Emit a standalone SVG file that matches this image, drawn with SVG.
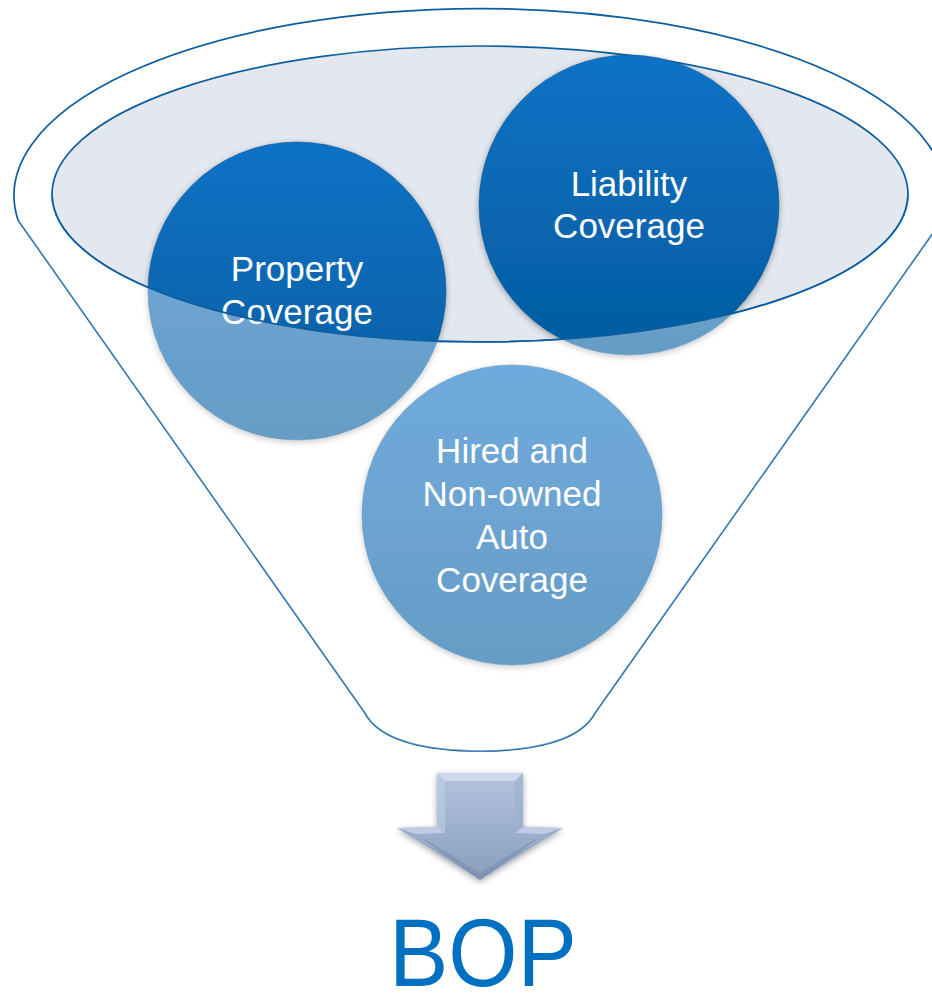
<svg xmlns="http://www.w3.org/2000/svg" width="932" height="995" viewBox="0 0 932 995">
<defs>
<linearGradient id="gCircle" x1="0" y1="0" x2="0" y2="1">
<stop offset="0" stop-color="#0a72c6"/>
<stop offset="1" stop-color="#055c9f"/>
</linearGradient>
<linearGradient id="gArrow" x1="0" y1="0" x2="0" y2="1">
<stop offset="0" stop-color="#b2c4e0"/>
<stop offset="1" stop-color="#8a9dbc"/>
</linearGradient>
<filter id="shadow" x="-20%" y="-20%" width="140%" height="140%">
<feDropShadow dx="0" dy="2" stdDeviation="3" flood-color="#000" flood-opacity="0.35"/>
</filter>
</defs>
<style>
.outline{fill:none;stroke:#0d5e9e;stroke-width:1.7}
.circle{fill:url(#gCircle);stroke:#05508c;stroke-opacity:0.5;stroke-width:1;filter:url(#shadow)}
.label{font-family:"Liberation Sans",Arial,sans-serif;font-size:35px;fill:#ffffff;text-anchor:middle}
</style>
<rect width="932" height="995" fill="#ffffff"/>
<g id="funnel">
<path d="M 18,220 A 466 187 0 1 1 942,220 L 595,713 C 580,742 530,751 480,751 C 430,751 380,742 365,713 Z" fill="#ffffff" stroke="#0d5e9e" stroke-width="1.7"/>
<ellipse cx="480" cy="194" rx="428" ry="148" fill="#e3e8f0" stroke="#0d5e9e" stroke-width="1.7"/>
</g>
<g id="node-property">
<circle class="circle" cx="297" cy="291" r="149"/>
<text class="label" x="297" y="281">Property</text>
<text class="label" x="297" y="324">Coverage</text>
</g>
<g id="node-liability">
<circle class="circle" cx="629" cy="205" r="150"/>
<text class="label" x="629" y="196">Liability</text>
<text class="label" x="629" y="238">Coverage</text>
</g>
<g id="node-hired">
<circle class="circle" cx="512" cy="515" r="150"/>
<text class="label" x="512" y="463">Hired and</text>
<text class="label" x="512" y="506">Non-owned</text>
<text class="label" x="512" y="549">Auto</text>
<text class="label" x="512" y="592">Coverage</text>
</g>
<g id="funnel-front">
<path d="M 52,194 A 428 148 0 0 0 908,194 L 942,220 L 595,713 C 580,742 530,751 480,751 C 430,751 380,742 365,713 L 18,220 Z" fill="#ffffff" fill-opacity="0.4"/>
<path class="outline" d="M 52,194 A 428 148 0 0 0 908,194"/>
</g>
<g id="connectors">
<g id="arrow">
<path d="M 437,773 L 523,773 L 523,827 L 563,828 L 480,880 L 397,828 L 437,827 Z" fill="url(#gArrow)" filter="url(#shadow)"/>
<path d="M 437,773 L 523,773 L 515,781 L 445,781 Z" fill="#d3def0" opacity="0.8"/>
<path d="M 437,773 L 445,781 L 445,833 L 437,827 Z" fill="#c0cee6" opacity="0.6"/>
<path d="M 523,773 L 515,781 L 515,833 L 523,827 Z" fill="#9cafcd" opacity="0.6"/>
<path d="M 397,828 L 437,827 L 445,833 L 416,834 Z" fill="#c8d5ea" opacity="0.8"/>
<path d="M 563,828 L 523,827 L 515,833 L 544,834 Z" fill="#c8d5ea" opacity="0.8"/>
<path d="M 416,834 L 480,880 L 544,834 L 480,873 Z" fill="#7689a9" opacity="0.55"/>
</g>
</g>
<g id="node-bop">
<text x="483" y="986" font-family="Liberation Sans, Arial, sans-serif" font-size="97" fill="#0070c0" text-anchor="middle" textLength="188" lengthAdjust="spacingAndGlyphs">BOP</text>
</g>
</svg>
